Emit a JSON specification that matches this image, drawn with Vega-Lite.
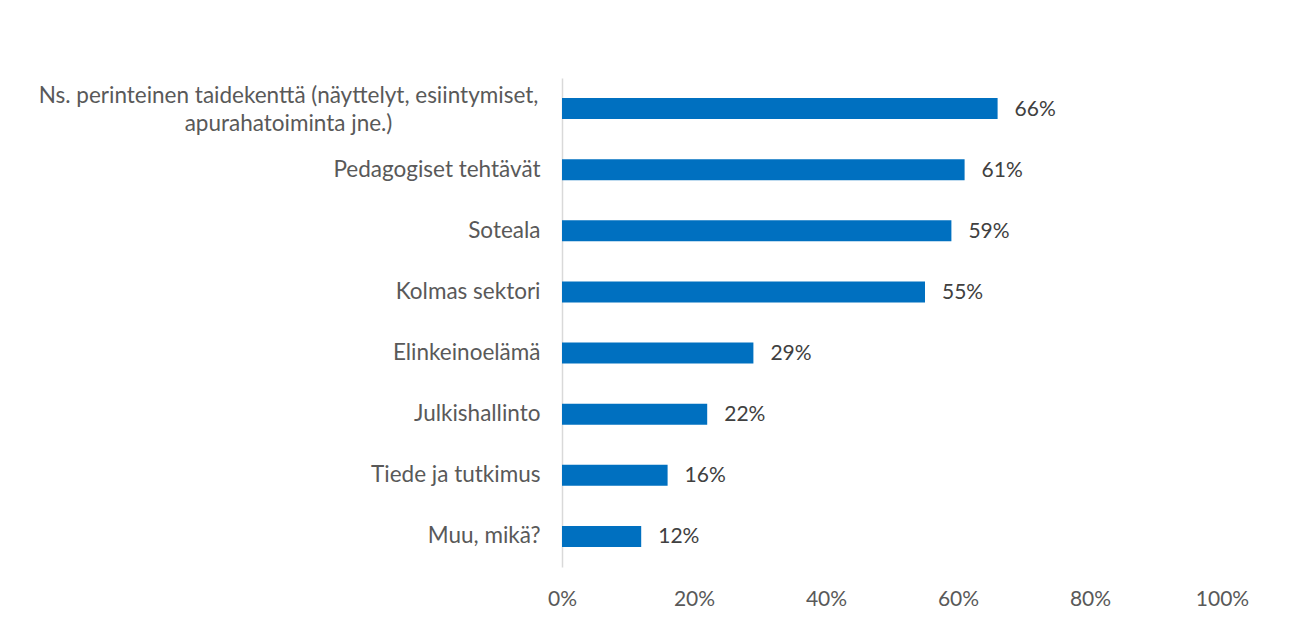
{
  "$schema": "https://vega.github.io/schema/vega-lite/v6.json",
  "autosize": "none",
  "width": 660,
  "height": 489,
  "padding": {"left": 562, "top": 78, "right": 69, "bottom": 72},
  "background": "white",
  "config": {
    "view": {"stroke": null},
    "font": "Lato",
    "axis": {"labelFont": "Lato", "labelColor": "#595959", "labelFontSize": 21}
  },
  "data": {
    "values": [
      {"category": "Ns. perinteinen taidekenttä (näyttelyt, esiintymiset, apurahatoiminta jne.)", "value": 0.66},
      {"category": "Pedagogiset tehtävät", "value": 0.61},
      {"category": "Soteala", "value": 0.59},
      {"category": "Kolmas sektori", "value": 0.55},
      {"category": "Elinkeinoelämä", "value": 0.29},
      {"category": "Julkishallinto", "value": 0.22},
      {"category": "Tiede ja tutkimus", "value": 0.16},
      {"category": "Muu, mikä?", "value": 0.12}
    ]
  },
  "encoding": {
    "y": {
      "field": "category",
      "type": "nominal",
      "sort": null,
      "scale": {"paddingInner": 0.656, "paddingOuter": 0.328},
      "axis": {
        "title": null,
        "ticks": false,
        "domainColor": "#D9D9D9",
        "domainWidth": 1.5,
        "labelFontSize": 22.5,
        "labelPadding": {"condition": {"test": "indexof(datum.value, 'Ns.') == 0", "value": 274}, "value": 22},
        "labelAlign": {"condition": {"test": "indexof(datum.value, 'Ns.') == 0", "value": "center"}, "value": "right"},
        "labelLimit": 700,
        "labelLineHeight": 28,
        "labelOffset": {"condition": {"test": "indexof(datum.value, 'Ns.') == 0", "value": -13}, "value": 0},
        "labelExpr": "indexof(datum.value, 'Ns.') == 0 ? ['Ns. perinteinen taidekenttä (näyttelyt, esiintymiset,', 'apurahatoiminta jne.)'] : datum.value"
      }
    },
    "x": {
      "field": "value",
      "type": "quantitative",
      "scale": {"domain": [0, 1], "nice": false},
      "axis": {
        "title": null,
        "values": [0, 0.2, 0.4, 0.6, 0.8, 1],
        "format": ".0%",
        "grid": false,
        "ticks": false,
        "domain": false,
        "labelFlush": false,
        "labelPadding": 21
      }
    }
  },
  "layer": [
    {"mark": {"type": "bar", "color": "#0070C0"}},
    {
      "mark": {"type": "text", "align": "left", "baseline": "middle", "dx": 17, "dy": 1, "fontSize": 21, "color": "#404040", "font": "Lato"},
      "encoding": {"text": {"field": "value", "type": "quantitative", "format": ".0%"}}
    }
  ]
}
